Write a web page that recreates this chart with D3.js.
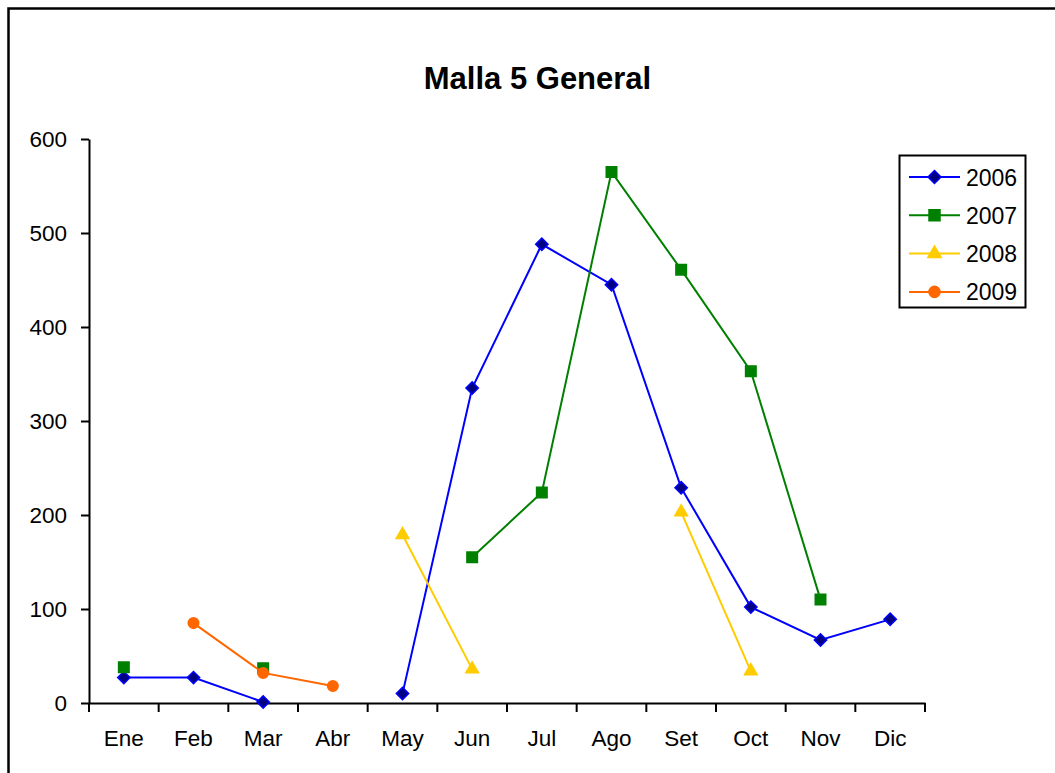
<!DOCTYPE html>
<html>
<head>
<meta charset="utf-8">
<script src="https://cdn.jsdelivr.net/npm/d3@7"></script>
<style>
  html, body { margin: 0; padding: 0; background: #fff; }
  svg { display: block; font-family: "Liberation Sans", Arial, sans-serif; }
</style>
</head>
<body>
<svg id="chart" width="1055" height="773"></svg>
<script>
// Monthly values per year (null = no record for that month)
const months = ["Ene", "Feb", "Mar", "Abr", "May", "Jun", "Jul", "Ago", "Set", "Oct", "Nov", "Dic"];
const years = ["2006", "2007", "2008", "2009"];
const values2006 = [27, 27, 1, null, 10, 335, 488, 445, 229, 102, 67, 89];
const values2007 = [38, null, 37, null, null, 155, 224, 565, 461, 353, 110, null];
const values2008 = [null, null, null, null, 179, 36, null, null, 203, 34, null, null];
const values2009 = [null, 85, 32, 18, null, null, null, null, null, null, null, null];
const yTicks = [0, 100, 200, 300, 400, 500, 600];
const chartTitle = "Malla 5 General";

const seriesValues = [values2006, values2007, values2008, values2009];

// Appearance of each series: line colour, marker shape and fill
const styles = [
  { line: "#0000FF", fill: "#000080", stroke: "#0000FF", shape: "diamond" },
  { line: "#008000", fill: "#008000", stroke: "#008000", shape: "square" },
  { line: "#FFCC00", fill: "#FFCC00", stroke: "#FFCC00", shape: "triangle" },
  { line: "#FF6600", fill: "#FF6600", stroke: "#FF6600", shape: "circle" }
];

const svg = d3.select("#chart");

// Outer frame of the chart area
svg.append("rect")
  .attr("x", 8.5).attr("y", 8.5)
  .attr("width", 1100).attr("height", 800)
  .attr("fill", "#fff")
  .attr("stroke", "#000").attr("stroke-width", 2.5);

const plot = { left: 89, right: 925, top: 139, bottom: 703 };

const x = d3.scaleBand().domain(months).range([plot.left, plot.right]).padding(0);
const y = d3.scaleLinear().domain([0, 600]).range([plot.bottom, plot.top]);

// Title
svg.append("text")
  .attr("x", 537.5)
  .attr("y", 89)
  .attr("text-anchor", "middle")
  .attr("font-size", 31)
  .attr("font-weight", "bold")
  .attr("fill", "#000")
  .text(chartTitle);

// Y axis
const yAxis = svg.append("g")
  .attr("transform", `translate(${plot.left},0)`)
  .call(d3.axisLeft(y).tickValues(yTicks).tickSize(8).tickSizeOuter(0).tickPadding(14));
yAxis.select(".domain").attr("stroke", "#000").attr("stroke-width", 2);
yAxis.selectAll(".tick line").attr("stroke", "#000").attr("stroke-width", 2);
yAxis.selectAll(".tick text")
  .attr("font-size", 22.5).attr("fill", "#000")
  .attr("font-family", "Liberation Sans, Arial, sans-serif");

// X axis: labels centred in each month, tick marks on the month boundaries
const xAxis = svg.append("g")
  .attr("transform", `translate(0,${plot.bottom})`)
  .call(d3.axisBottom(x).tickSize(0).tickSizeOuter(0).tickPadding(27));
xAxis.select(".domain").attr("stroke", "#000").attr("stroke-width", 2);
xAxis.selectAll(".tick text")
  .attr("font-size", 22.5).attr("fill", "#000")
  .attr("font-family", "Liberation Sans, Arial, sans-serif");

const boundaries = months.map(m => x(m)).concat([x.range()[1]]);
xAxis.selectAll("line.boundary")
  .data(boundaries)
  .join("line")
  .attr("class", "boundary")
  .attr("x1", d => d).attr("x2", d => d)
  .attr("y1", 0).attr("y2", 9)
  .attr("stroke", "#000").attr("stroke-width", 2);

// Marker path generators
function markerPath(shape, scale = 1) {
  switch (shape) {
    case "diamond": return d3.symbol().type(d3.symbolSquare).size(76 * scale)();
    case "square": return d3.symbol().type(d3.symbolSquare).size(110 * scale)();
    case "triangle": return d3.symbol().type(d3.symbolTriangle).size(70 * scale)();
    default: return d3.symbol().type(d3.symbolCircle).size(88 * scale)();
  }
}
function markerTransform(shape, px, py) {
  return shape === "diamond" ? `translate(${px},${py}) rotate(45)` : `translate(${px},${py})`;
}

const line = d3.line()
  .defined(d => d.v != null)
  .x(d => x(d.m) + x.bandwidth() / 2)
  .y(d => y(d.v));

const seriesG = svg.append("g");
seriesValues.forEach((vals, i) => {
  const st = styles[i];
  const data = months.map((m, j) => ({ m, v: vals[j] }));
  const g = seriesG.append("g");
  g.append("path")
    .datum(data)
    .attr("fill", "none")
    .attr("stroke", st.line)
    .attr("stroke-width", 2)
    .attr("d", line);
  g.selectAll("path.marker")
    .data(data.filter(d => d.v != null))
    .join("path")
    .attr("class", "marker")
    .attr("d", markerPath(st.shape))
    .attr("transform", d => markerTransform(st.shape, x(d.m) + x.bandwidth() / 2, y(d.v)))
    .attr("fill", st.fill)
    .attr("stroke", st.stroke)
    .attr("stroke-width", 1.5);
});

// Legend
const legend = svg.append("g");
legend.append("rect")
  .attr("x", 899.5).attr("y", 155.5)
  .attr("width", 126).attr("height", 152)
  .attr("fill", "#fff")
  .attr("stroke", "#000").attr("stroke-width", 2);

years.forEach((yr, i) => {
  const st = styles[i];
  const cy = 177 + i * 38.3;
  legend.append("line")
    .attr("x1", 909).attr("x2", 960)
    .attr("y1", cy).attr("y2", cy)
    .attr("stroke", st.line).attr("stroke-width", 2);
  legend.append("path")
    .attr("d", markerPath(st.shape, 1.1))
    .attr("transform", markerTransform(st.shape, 934.5, cy))
    .attr("fill", st.fill)
    .attr("stroke", st.stroke)
    .attr("stroke-width", 1.5);
  legend.append("text")
    .attr("x", 966).attr("y", cy + 8.5)
    .attr("font-size", 23)
    .attr("fill", "#000")
    .text(yr);
});
</script>
</body>
</html>
